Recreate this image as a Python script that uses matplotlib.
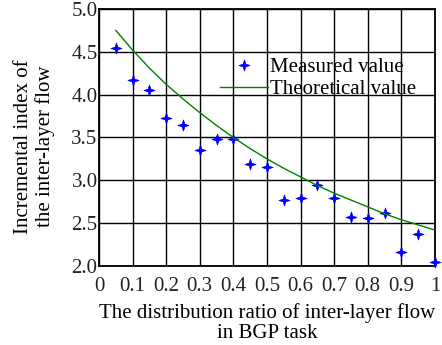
import matplotlib
matplotlib.use("Agg")
import matplotlib.pyplot as plt
from matplotlib.path import Path

plt.rcParams['font.family'] = ['Liberation Serif', 'DejaVu Serif']

x_meas = [0.05, 0.10, 0.15, 0.20, 0.25, 0.30, 0.35, 0.40, 0.45, 0.50,
          0.55, 0.60, 0.65, 0.70, 0.75, 0.80, 0.85, 0.90, 0.95, 1.00]
y_meas = [4.54, 4.17, 4.06, 3.73, 3.65, 3.35, 3.48, 3.48, 3.19, 3.15,
          2.77, 2.79, 2.94, 2.79, 2.57, 2.56, 2.62, 2.16, 2.37, 2.05]
x_theo = [0.05, 0.10, 0.15, 0.20, 0.25, 0.30, 0.35, 0.40, 0.45, 0.50,
          0.55, 0.60, 0.65, 0.70, 0.75, 0.80, 0.85, 0.90, 0.95, 1.00]
y_theo = [4.75, 4.52, 4.31, 4.12, 3.95, 3.79, 3.64, 3.50, 3.37, 3.25,
          3.14, 3.04, 2.94, 2.85, 2.77, 2.69, 2.61, 2.54, 2.48, 2.42]
xticks = [0, 0.1, 0.2, 0.3, 0.4, 0.5, 0.6, 0.7, 0.8, 0.9, 1.0]
xticklabels = ['0', '0.1', '0.2', '0.3', '0.4', '0.5', '0.6', '0.7', '0.8', '0.9', '1']
yticks = [2.0, 2.5, 3.0, 3.5, 4.0, 4.5, 5.0]
yticklabels = ['2.0', '2.5', '3.0', '3.5', '4.0', '4.5', '5.0']

fig = plt.figure(figsize=(4.42, 3.45), dpi=100)
ax = fig.add_axes([0.224, 0.229, 0.76, 0.745])

star = Path.unit_regular_star(4, 0.35)
ax.plot(x_meas, y_meas, linestyle='none', marker=star, markersize=8,
        markeredgewidth=0.5, color='#0000ff', label='Measured value',
        zorder=3, clip_on=False)
ax.plot(x_theo, y_theo, color='#008000', linewidth=1.0, label='Theoretical value', zorder=3)

ax.set_xlim(0, 1)
ax.set_ylim(2.0, 5.0)
ax.set_xticks(xticks)
ax.set_xticklabels(xticklabels)
ax.set_yticks(yticks)
ax.set_yticklabels(yticklabels)
ax.tick_params(length=0, labelsize=15, colors='#222222')
ax.tick_params(axis='x', pad=8)
ax.tick_params(axis='y', pad=1)
ax.grid(True, color='black', linewidth=1.0)
for s in ax.spines.values():
    s.set_linewidth(1.3)

ax.set_xlabel('The distribution ratio of inter-layer flow\nin BGP task', fontsize=15,
              labelpad=5, linespacing=1.1)
ax.set_ylabel('Incremental index of\nthe inter-layer flow', fontsize=15,
              linespacing=1.15)
ax.yaxis.set_label_coords(-0.13, 0.465)

leg = ax.legend(loc='upper left', bbox_to_anchor=(0.36, 0.81), frameon=False,
                fontsize=15, handlelength=2.3, handletextpad=0.1,
                labelspacing=0.1, borderaxespad=0, borderpad=0)

fig.savefig('out.png', dpi=100)
